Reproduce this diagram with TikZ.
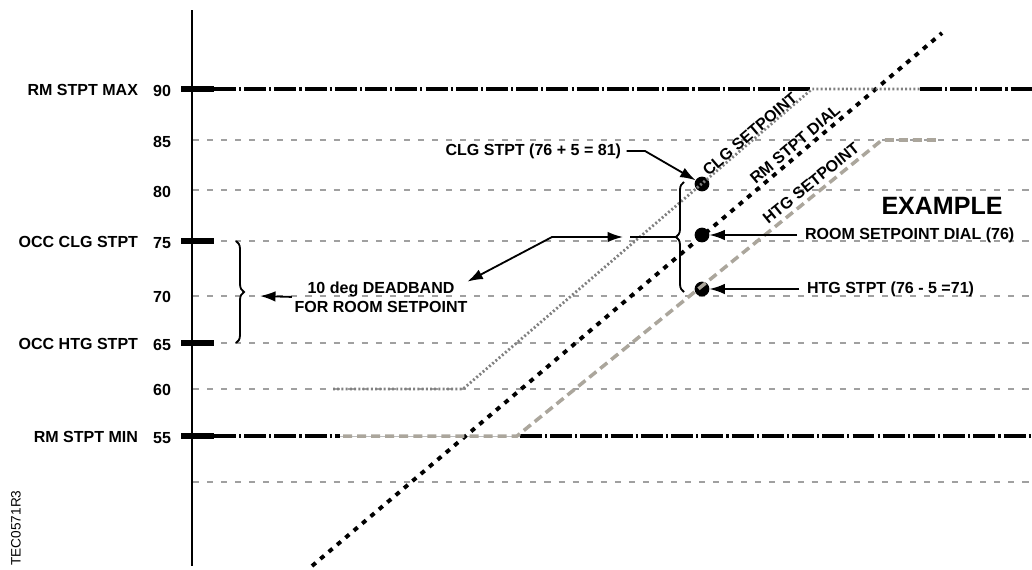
\documentclass[tikz,border=0pt]{standalone}
\usepackage{fontspec}
\setmainfont{Liberation Sans}
\usetikzlibrary{arrows.meta,decorations.pathreplacing}
\definecolor{gradecinza}{HTML}{A0A0A0}
\definecolor{clgcinza}{HTML}{808080}
\definecolor{htgbege}{HTML}{ABA69C}

\begin{document}
\begin{tikzpicture}[x=0.25mm, y=-0.25mm]
\tikzset{ >={Latex[length=11pt,width=7.5pt]}, inner sep=0pt, outer sep=0pt,
  rotulo/.style={font=\fontsize{11.4}{13.5}\selectfont\bfseries},
  grade/.style={draw=gradecinza, line width=1.07pt, dash pattern=on 4.3pt off 5.7pt},
  limite/.style={line width=2.5pt, dash pattern=on 15.6pt off 2.2pt on 1.5pt off 2.2pt},
  marca/.style={line width=4.3pt},
  seta/.style={->, line width=1.3pt},
  chave/.style={decorate, decoration={brace, amplitude=5.7pt}, line width=1.3pt},
  dialpt/.style={line width=2.8pt, dash pattern=on 3.5pt off 4.3pt},
  clgpt/.style={draw=clgcinza, line width=2pt, dash pattern=on 1.4pt off 1.6pt},
  htgpt/.style={draw=htgbege, line width=2.5pt, dash pattern=on 6.4pt off 3.6pt},
}

\useasboundingbox (0,0) rectangle (1032,569);

%\draw [lightgray, dashed](0,0) grid (1032,569);

%%% Eixo

\coordinate (AX0) at (192,10);
\coordinate (AX1) at (192,566);
\draw [line width=1.4pt] (AX0) -- (AX1);

% grade 85 .. 50
\draw [grade] (193,140) -- (1032,140);
\draw [grade] (193,190) -- (1032,190);
\draw [grade] (193,241) -- (1032,241);
\draw [grade] (193,296) -- (1032,296);
\draw [grade] (193,343) -- (1032,343);
\draw [grade] (193,389) -- (1032,389);
\draw [grade] (193,482) -- (1032,482);

% limites 90 e 55
\draw [limite] (214,89) -- (812,89);
\draw [limite] (920,89) -- (1032,89);
\draw [limite] (214,436) -- (340,436);
\draw [limite] (520,436) -- (1032,436);
\draw [draw=gradecinza!70, line width=0.6pt] (340,436) -- (520,436);

% marcas
\draw [marca] (181,89) -- (214,89);
\draw [marca] (181,241) -- (214,241);
\draw [marca] (181,343) -- (214,343);
\draw [marca] (181,436) -- (214,436);

% valores
\node [rotulo] (V90) at (162,91) {90};
\node [rotulo] (V85) at (162,142) {85};
\node [rotulo] (V80) at (162,192) {80};
\node [rotulo] (V75) at (162,243) {75};
\node [rotulo] (V70) at (162,297) {70};
\node [rotulo] (V65) at (162,345) {65};
\node [rotulo] (V60) at (162,390) {60};
\node [rotulo] (V55) at (162,438) {55};

% nomes
\node [rotulo, anchor=east] (MAXtxt) at (138,90) {RM STPT MAX};
\node [rotulo, anchor=east] (OCCclg) at (138,242) {OCC CLG STPT};
\node [rotulo, anchor=east] (OCChtg) at (138,344) {OCC HTG STPT};
\node [rotulo, anchor=east] (MINtxt) at (138,437) {RM STPT MIN};

\node [rotate=90, font=\fontsize{9.7}{11}\selectfont] (TECtxt) at (16,528) {TEC0571R3};

%%% Pontos

\node [fill=black, circle, minimum size=10.5pt] (CLGdot)  at (702,184) { };
\node [fill=black, circle, minimum size=10.5pt] (DIALdot) at (702,235) { };
\node [fill=black, circle, minimum size=10.5pt] (HTGdot)  at (702,289) { };

%%% Retas

% RM STPT DIAL
\coordinate (DIAL0) at (312,566);
\coordinate (DIAL1) at (942,33);
\draw [dialpt] (DIAL0) -- (DIAL1);
\node [rotulo, rotate=40.3] (DIALlbl) at (795,144) {RM STPT DIAL};

% CLG SETPOINT
\coordinate (CLG0) at (333,389);
\coordinate (CLG1) at (463,389);
\coordinate (CLG2) at (812,89);
\coordinate (CLG3) at (920,89);
\draw [clgpt] (CLG0) -- (CLG1) -- (CLG2) -- (CLG3);
\node [rotulo, rotate=40.6] (CLGlbl) at (750,134) {CLG SETPOINT};

% HTG SETPOINT
\coordinate (HTG0) at (343,436);
\coordinate (HTG1) at (517,436);
\coordinate (HTG2) at (882,140);
\coordinate (HTG3) at (940,140);
\draw [htgpt] (HTG0) -- (HTG1) -- (HTG2) -- (HTG3);
\node [rotulo, rotate=39] (HTGlbl) at (811,183) {HTG SETPOINT};

%%% Textos e setas

\node [font=\fontsize{17.8}{20}\selectfont\bfseries] (EXtxt) at (942,206) {EXAMPLE};

% dial
\node [rotulo, anchor=west] (DIALtxt) at (805,235) {ROOM SETPOINT DIAL (76)};
\draw [seta, shorten <=5.7pt] (DIALtxt.west) -- (DIALdot.east);

% htg
\node [rotulo, anchor=west] (HTGtxt) at (807,289) {HTG STPT (76 - 5 =71)};
\draw [seta, shorten <=5.7pt] (HTGtxt.west) -- (HTGdot.east);

% clg
\node [rotulo, anchor=east] (CLGtxt) at (621,151) {CLG STPT (76 + 5 = 81)};
\coordinate (CLGbend) at (645,151);
\draw [seta, shorten <=4pt] (CLGtxt.east) -- (CLGbend) -- (CLGdot);

% deadband
\node [rotulo, align=center] (DBtxt) at (381,297) {10 deg DEADBAND\\FOR ROOM SETPOINT};

% chave esquerda
\coordinate (LB0) at (236,241);
\coordinate (LB1) at (236,343);
\draw [chave] (LB0) -- (LB1);
\coordinate (LBtip) at (260,296);
\draw [seta, shorten <=2pt] (DBtxt.west) -- (LBtip);

% chave direita
\coordinate (RB0) at (684,292);
\coordinate (RB1) at (684,182);
\draw [chave] (RB0) -- (RB1);
\coordinate (RBtip) at (676,237);
\coordinate (RBgap) at (630,237);
\draw [line width=1.3pt] (RBtip) -- (RBgap);
\coordinate (DBarr) at (623,237);
\coordinate (DBbend) at (552,237);
\draw [seta, <->] (DBarr) -- (DBbend) -- (DBtxt.north east);

\end{tikzpicture}
\end{document}
